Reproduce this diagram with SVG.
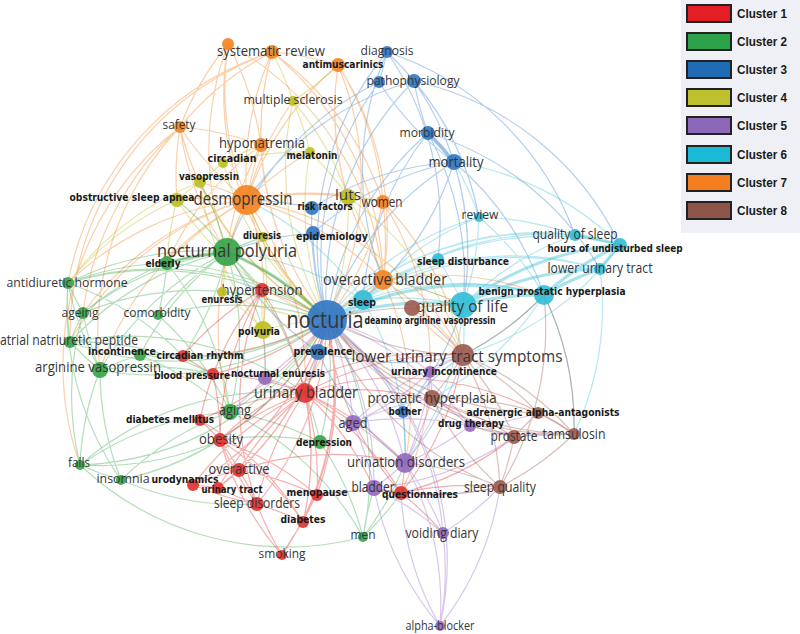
<svg xmlns="http://www.w3.org/2000/svg" width="800" height="634" viewBox="0 0 800 634">
<style>
.e path{fill:none;stroke-width:1.2;stroke-opacity:.38}
.e1 path{stroke:#e0302e}.e2 path{stroke:#3aa84a}.e3 path{stroke:#3a80cc}.e4 path{stroke:#bcbd22}
.e5 path{stroke:#9b6cc4}.e6 path{stroke:#3fc0d8}.e7 path{stroke:#f4821f}.e8 path{stroke:#9a5a4f}
.n1{fill:#e0302e}.n2{fill:#33a345}.n3{fill:#2f76c4}.n4{fill:#bcbd22}.n5{fill:#9467bd}.n6{fill:#30bdd6}.n7{fill:#f4821f}.n8{fill:#9a5a4f}
circle{fill-opacity:.9}
.t{font-family:"Open Sans","Noto Sans",sans-serif;fill:#363636;text-anchor:middle}
.b{font-family:"DejaVu Sans","Liberation Sans",sans-serif;font-weight:bold;fill:#1a1a1a;text-anchor:middle;font-size:11px}
.lg{font-family:"Liberation Sans","DejaVu Sans",sans-serif;font-weight:bold;fill:#1a1a1a;font-size:13px}
.bx{stroke:#222;stroke-width:2}
</style>
<rect width="800" height="634" fill="#ffffff"/>
<g id="connectors" class="e">
<g class="e3">
<path d="M327 320A300 300 0 0 1 387 52M327 320A300 300 0 0 1 414 81M327 320A300 300 0 0 1 379 82M327 320A300 300 0 0 1 428 133M327 320A300 300 0 0 1 454 162M327 320A300 300 0 0 1 312 208M327 320A300 300 0 0 1 313 233M327 320A300 300 0 0 1 318 352M327 320A300 300 0 0 1 403 412M428 133A300 300 0 0 1 414 81M387 52A300 300 0 0 1 414 81M387 52A300 300 0 0 1 379 82M379 82A300 300 0 0 0 454 162M414 81A300 300 0 0 1 454 162M454 162A300 300 0 0 1 363 300M454 162A300 300 0 0 0 313 233M454 162A300 300 0 0 0 312 208M428 133A300 300 0 0 0 363 300M387 52A300 300 0 0 0 383 280M414 81A300 300 0 0 0 247 200M379 82A300 300 0 0 0 227 252M312 208A300 300 0 0 0 247 200M313 233A300 300 0 0 0 227 252M318 352A300 300 0 0 0 463 355M318 352A300 300 0 0 0 405 463M403 412A300 300 0 0 1 463 355M403 412A300 300 0 0 0 463 305M403 412A300 300 0 0 1 405 463M454 162A300 300 0 0 1 463 305M428 133A300 300 0 0 1 463 305M387 52A300 300 0 0 1 438 259M414 81A300 300 0 0 1 479 217M414 81A300 300 0 0 1 463 305M318 352A300 300 0 0 1 227 252M318 352A300 300 0 0 1 305 393M454 162A300 300 0 0 1 544 295M387 52A300 300 0 0 1 575 235M414 81A300 300 0 0 1 620 245M428 133A300 300 0 0 1 600 269"/>
<path d="M454 162A300 300 0 0 0 428 133" style="stroke-width:3.5;stroke-opacity:.5"/>
</g>
<g class="e6">
<path d="M327 320A300 300 0 0 1 363 300M327 320A300 300 0 0 1 479 217M327 320A300 300 0 0 1 438 259M327 320A300 300 0 0 1 575 235M327 320A300 300 0 0 1 620 245M327 320A300 300 0 0 1 600 269M463 305A300 300 0 0 1 575 235M463 305A300 300 0 0 0 438 259M463 305A300 300 0 0 0 479 217M363 300A300 300 0 0 1 463 305M463 305A300 300 0 0 1 463 355M479 217A300 300 0 0 0 454 162M575 235A300 300 0 0 0 363 300M620 245A300 300 0 0 0 363 300M544 295A300 300 0 0 0 363 300M544 295A300 300 0 0 1 463 355M600 269A300 300 0 0 0 363 300M479 217A300 300 0 0 0 363 300M438 259A300 300 0 0 0 363 300M463 305A300 300 0 0 0 383 280M544 295A300 300 0 0 0 479 217M575 235A300 300 0 0 0 479 217M620 245A300 300 0 0 0 454 162M544 295A300 300 0 0 1 574 434M600 269A300 300 0 0 1 574 434M544 295A300 300 0 0 1 432 398M363 300A300 300 0 0 0 247 200M363 300A300 300 0 0 0 227 252M363 300A300 300 0 0 1 405 463M463 305A300 300 0 0 1 405 463M620 245A300 300 0 0 1 463 355"/>
<path d="M327 320A300 300 0 0 1 463 305M463 305A300 300 0 0 1 544 295M544 295A300 300 0 0 1 600 269M544 295A300 300 0 0 1 620 245M600 269A300 300 0 0 1 620 245M463 305A300 300 0 0 1 600 269M463 305A300 300 0 0 1 620 245M620 245A300 300 0 0 0 575 235M327 320A300 300 0 0 1 544 295" style="stroke-width:3.2;stroke-opacity:.45"/>
</g>
<g class="e7">
<path d="M327 320A300 300 0 0 1 272 52M327 320A300 300 0 0 1 228 44M327 320A300 300 0 0 0 338 65M327 320A300 300 0 0 1 180 127M327 320A300 300 0 0 1 261 145M327 320A300 300 0 0 1 247 200M327 320A300 300 0 0 0 383 202M327 320A300 300 0 0 1 383 280M247 200A300 300 0 0 1 272 52M247 200A300 300 0 0 1 228 44M247 200A300 300 0 0 1 338 65M247 200A300 300 0 0 1 180 127M247 200A300 300 0 0 1 261 145M247 200A300 300 0 0 0 227 252M247 200A300 300 0 0 1 383 280M247 200A300 300 0 0 1 383 202M247 200A300 300 0 0 1 348 197M247 200A300 300 0 0 0 100 370M247 200A300 300 0 0 0 167 263M247 200A300 300 0 0 0 68 283M247 200A300 300 0 0 1 293 101M247 200A300 300 0 0 1 310 152M247 200A300 300 0 0 0 177 200M247 200A300 300 0 0 0 200 182M247 200A300 300 0 0 0 83 313M247 200A300 300 0 0 0 70 342M247 200A300 300 0 0 1 463 355M247 200A300 300 0 0 1 305 393M247 200A300 300 0 0 0 230 412M247 200A300 300 0 0 1 263 330M272 52A300 300 0 0 0 180 127M272 52A300 300 0 0 0 261 145M272 52A300 300 0 0 1 338 65M272 52A300 300 0 0 1 383 280M272 52A300 300 0 0 1 383 202M228 44A300 300 0 0 0 180 127M228 44A300 300 0 0 1 261 145M228 44A300 300 0 0 1 383 280M228 44A300 300 0 0 0 227 252M338 65A300 300 0 0 1 383 280M338 65A300 300 0 0 1 383 202M338 65A300 300 0 0 0 348 197M338 65A300 300 0 0 0 463 355M180 127A300 300 0 0 1 261 145M180 127A300 300 0 0 0 227 252M180 127A300 300 0 0 0 177 200M180 127A300 300 0 0 0 100 370M180 127A300 300 0 0 0 80 465M261 145A300 300 0 0 0 227 252M261 145A300 300 0 0 0 167 263M383 280A300 300 0 0 1 463 305M383 280A300 300 0 0 1 463 355M383 280A300 300 0 0 1 405 463M383 280A300 300 0 0 0 305 393M383 280A300 300 0 0 0 383 202M383 280A300 300 0 0 1 544 295M383 202A300 300 0 0 1 463 355M383 202A300 300 0 0 1 401 493M272 52A300 300 0 0 0 68 283M272 52A300 300 0 0 0 70 342M180 127A300 300 0 0 0 83 313"/>
</g>
<g class="e2">
<path d="M327 320A300 300 0 0 0 227 252M327 320A300 300 0 0 0 167 263M327 320A300 300 0 0 0 68 283M327 320A300 300 0 0 0 83 313M327 320A300 300 0 0 0 158 315M327 320A300 300 0 0 1 70 342M327 320A300 300 0 0 1 140 355M327 320A300 300 0 0 1 100 370M327 320A300 300 0 0 1 230 412M327 320A300 300 0 0 1 320 442M327 320A300 300 0 0 1 121 480M327 320A300 300 0 0 1 80 465M327 320A300 300 0 0 1 363 537M227 252A300 300 0 0 0 167 263M227 252A300 300 0 0 0 68 283M227 252A300 300 0 0 0 83 313M227 252A300 300 0 0 0 70 342M227 252A300 300 0 0 0 100 370M227 252A300 300 0 0 0 140 355M227 252A300 300 0 0 0 158 315M227 252A300 300 0 0 1 230 412M227 252A300 300 0 0 1 262 290M227 252A300 300 0 0 1 263 330M227 252A300 300 0 0 1 263 237M227 252A300 300 0 0 0 177 200M227 252A300 300 0 0 0 200 182M227 252A300 300 0 0 1 305 393M227 252A300 300 0 0 1 183 356M167 263A300 300 0 0 0 68 283M167 263A300 300 0 0 0 83 313M68 283A300 300 0 0 0 83 313M68 283A300 300 0 0 0 70 342M68 283A300 300 0 0 0 100 370M83 313A300 300 0 0 0 70 342M83 313A300 300 0 0 0 100 370M70 342A300 300 0 0 0 100 370M100 370A300 300 0 0 1 140 355M100 370A300 300 0 0 0 80 465M100 370A300 300 0 0 0 121 480M83 313A300 300 0 0 0 80 465M68 283A300 300 0 0 0 121 480M230 412A300 300 0 0 1 320 442M230 412A300 300 0 0 1 363 537M230 412A300 300 0 0 0 80 465M230 412A300 300 0 0 0 121 480M320 442A300 300 0 0 1 363 537M320 442A300 300 0 0 0 305 393M320 442A300 300 0 0 0 220 440M121 480A300 300 0 0 1 80 465M121 480A300 300 0 0 0 220 440M121 480A300 300 0 0 0 257 504M80 465A300 300 0 0 0 220 440M363 537A300 300 0 0 1 374 488M363 537A300 300 0 0 0 405 463M363 537A300 300 0 0 0 401 493M158 315A300 300 0 0 1 230 412M140 355A300 300 0 0 1 230 412M167 263A300 300 0 0 1 230 412M167 263A300 300 0 0 1 158 315M100 370A300 300 0 0 1 213 374M140 355A300 300 0 0 1 183 356M70 342A300 300 0 0 1 213 374M68 283A300 300 0 0 1 183 356M68 283A300 300 0 0 1 262 290M70 342A300 300 0 0 1 305 393M80 465A300 300 0 0 1 305 393M80 465A300 300 0 0 0 363 537"/>
<path d="M327 320A300 300 0 0 0 227 252M227 252A300 300 0 0 0 167 263" style="stroke-width:3;stroke-opacity:.45"/>
</g>
<g class="e1">
<path d="M327 320A300 300 0 0 0 262 290M327 320A300 300 0 0 1 183 356M327 320A300 300 0 0 1 213 374M327 320A300 300 0 0 1 305 393M327 320A300 300 0 0 1 200 420M327 320A300 300 0 0 1 220 440M327 320A300 300 0 0 1 239 470M327 320A300 300 0 0 1 193 485M327 320A300 300 0 0 1 218 488M327 320A300 300 0 0 1 257 504M327 320A300 300 0 0 1 317 495M327 320A300 300 0 0 0 401 493M327 320A300 300 0 0 1 303 522M327 320A300 300 0 0 1 282 555M262 290A300 300 0 0 0 183 356M262 290A300 300 0 0 0 213 374M262 290A300 300 0 0 1 305 393M262 290A300 300 0 0 0 220 440M262 290A300 300 0 0 0 200 420M262 290A300 300 0 0 1 303 522M262 290A300 300 0 0 0 257 504M183 356A300 300 0 0 0 213 374M305 393A300 300 0 0 0 220 440M305 393A300 300 0 0 0 239 470M305 393A300 300 0 0 0 218 488M305 393A300 300 0 0 0 257 504M305 393A300 300 0 0 1 317 495M305 393A300 300 0 0 1 401 493M305 393A300 300 0 0 1 303 522M305 393A300 300 0 0 0 200 420M305 393A300 300 0 0 0 193 485M305 393A300 300 0 0 1 463 355M305 393A300 300 0 0 1 405 463M305 393A300 300 0 0 1 374 488M305 393A300 300 0 0 1 353 423M200 420A300 300 0 0 1 220 440M220 440A300 300 0 0 1 239 470M220 440A300 300 0 0 0 257 504M220 440A300 300 0 0 1 303 522M239 470A300 300 0 0 0 218 488M239 470A300 300 0 0 0 193 485M239 470A300 300 0 0 1 257 504M239 470A300 300 0 0 1 317 495M218 488A300 300 0 0 0 257 504M257 504A300 300 0 0 1 303 522M257 504A300 300 0 0 0 282 555M303 522A300 300 0 0 0 282 555M303 522A300 300 0 0 1 317 495M317 495A300 300 0 0 1 401 493M317 495A300 300 0 0 0 220 440M401 493A300 300 0 0 0 405 463M401 493A300 300 0 0 1 374 488M401 493A300 300 0 0 1 443 533M401 493A300 300 0 0 0 463 355M282 555A300 300 0 0 1 220 440M213 374A300 300 0 0 1 220 440M213 374A300 300 0 0 1 305 393M200 420A300 300 0 0 1 303 522M193 485A300 300 0 0 1 218 488M193 485A300 300 0 0 0 257 504M401 493A300 300 0 0 1 500 487M220 440A300 300 0 0 1 463 355M239 470A300 300 0 0 1 405 463M305 393A300 300 0 0 1 514 437M305 393A300 300 0 0 1 574 434M401 493A300 300 0 0 0 514 437"/>
</g>
<g class="e4">
<path d="M327 320A300 300 0 0 1 293 101M327 320A300 300 0 0 1 310 152M327 320A300 300 0 0 1 223 163M327 320A300 300 0 0 1 200 182M327 320A300 300 0 0 1 177 200M327 320A300 300 0 0 0 348 197M327 320A300 300 0 0 1 263 237M327 320A300 300 0 0 1 222 292M327 320A300 300 0 0 0 263 330M263 330A300 300 0 0 0 263 237M263 330A300 300 0 0 0 222 292M263 330A300 300 0 0 1 200 182M263 330A300 300 0 0 1 262 290M200 182A300 300 0 0 1 223 163M200 182A300 300 0 0 0 177 200M223 163A300 300 0 0 1 310 152M223 163A300 300 0 0 1 261 145M310 152A300 300 0 0 0 293 101M310 152A300 300 0 0 1 348 197M293 101A300 300 0 0 1 348 197M348 197A300 300 0 0 1 383 280M348 197A300 300 0 0 1 383 202M177 200A300 300 0 0 0 167 263M177 200A300 300 0 0 0 68 283M200 182A300 300 0 0 0 68 283M263 237A300 300 0 0 1 247 200M222 292A300 300 0 0 0 227 252M293 101A300 300 0 0 0 272 52M293 101A300 300 0 0 0 338 65M348 197A300 300 0 0 1 463 355M263 330A300 300 0 0 1 265 378"/>
</g>
<g class="e5">
<path d="M327 320A300 300 0 0 1 265 378M327 320A300 300 0 0 1 430 372M327 320A300 300 0 0 1 353 423M327 320A300 300 0 0 1 470 426M327 320A300 300 0 0 1 405 463M327 320A300 300 0 0 1 374 488M327 320A300 300 0 0 1 443 533M327 320A300 300 0 0 1 440 626M405 463A300 300 0 0 1 374 488M405 463A300 300 0 0 0 353 423M405 463A300 300 0 0 1 443 533M405 463A300 300 0 0 0 463 355M405 463A300 300 0 0 0 432 398M405 463A300 300 0 0 0 470 426M405 463A300 300 0 0 0 430 372M374 488A300 300 0 0 1 443 533M374 488A300 300 0 0 0 440 626M443 533A300 300 0 0 1 440 626M405 463A300 300 0 0 1 440 626M353 423A300 300 0 0 1 463 355M353 423A300 300 0 0 1 432 398M353 423A300 300 0 0 1 470 426M470 426A300 300 0 0 0 432 398M470 426A300 300 0 0 0 538 413M470 426A300 300 0 0 1 514 437M470 426A300 300 0 0 0 574 434M430 372A300 300 0 0 1 463 355M430 372A300 300 0 0 1 432 398M265 378A300 300 0 0 1 305 393M265 378A300 300 0 0 0 263 330M265 378A300 300 0 0 0 213 374M265 378A300 300 0 0 1 230 412M374 488A300 300 0 0 0 500 487M443 533A300 300 0 0 0 500 487M353 423A300 300 0 0 1 374 488M374 488A300 300 0 0 0 514 437M440 626A300 300 0 0 1 401 493M440 626A300 300 0 0 0 500 487M430 372A300 300 0 0 1 353 423"/>
</g>
<g class="e8">
<path d="M327 320A300 300 0 0 0 463 355M327 320A300 300 0 0 1 412 308M327 320A300 300 0 0 0 432 398M327 320A300 300 0 0 0 538 413M327 320A300 300 0 0 0 514 437M327 320A300 300 0 0 0 574 434M327 320A300 300 0 0 0 500 487M463 355A300 300 0 0 1 432 398M463 355A300 300 0 0 1 538 413M463 355A300 300 0 0 1 514 437M463 355A300 300 0 0 1 574 434M463 355A300 300 0 0 1 500 487M463 355A300 300 0 0 0 544 295M432 398A300 300 0 0 1 538 413M432 398A300 300 0 0 0 514 437M432 398A300 300 0 0 0 574 434M432 398A300 300 0 0 0 500 487M538 413A300 300 0 0 1 574 434M538 413A300 300 0 0 0 514 437M514 437A300 300 0 0 1 574 434M514 437A300 300 0 0 1 500 487M574 434A300 300 0 0 1 500 487M500 487A300 300 0 0 1 401 493M500 487A300 300 0 0 0 405 463M574 434A300 300 0 0 0 544 295M412 308A300 300 0 0 1 463 355M412 308A300 300 0 0 1 463 305M500 487A300 300 0 0 0 544 295"/>
</g>
</g>
<g id="nodes">
<g id="n-nocturia"><circle class="n3" cx="327" cy="320" r="20"/><text class="t" x="325" y="328" font-size="24" textLength="77" lengthAdjust="spacingAndGlyphs">nocturia</text></g>
<g id="n-desmopressin"><circle class="n7" cx="247" cy="200" r="15"/><text class="t" x="243" y="205" font-size="18" textLength="99" lengthAdjust="spacingAndGlyphs">desmopressin</text></g>
<g id="n-nocturnal-polyuria"><circle class="n2" cx="227" cy="252" r="14"/><text class="t" x="227" y="257" font-size="18" textLength="140" lengthAdjust="spacingAndGlyphs">nocturnal polyuria</text></g>
<g id="n-quality-of-life"><circle class="n6" cx="463" cy="305" r="13"/><text class="t" x="462" y="312" font-size="17" textLength="92" lengthAdjust="spacingAndGlyphs">quality of life</text></g>
<g id="n-luts-symptoms"><circle class="n8" cx="463" cy="355" r="11"/><text class="t" x="457" y="362" font-size="16" textLength="211" lengthAdjust="spacingAndGlyphs">lower urinary tract symptoms</text></g>
<g id="n-urinary-bladder"><circle class="n1" cx="305" cy="393" r="10"/><text class="t" x="306" y="398" font-size="16" textLength="104" lengthAdjust="spacingAndGlyphs">urinary bladder</text></g>
<g id="n-overactive-bladder"><circle class="n7" cx="383" cy="280" r="10"/><text class="t" x="385" y="285" font-size="16" textLength="124" lengthAdjust="spacingAndGlyphs">overactive bladder</text></g>
<g id="n-sleep"><circle class="n6" cx="363" cy="300" r="10"/><text class="b" x="362" y="306" textLength="28" lengthAdjust="spacingAndGlyphs">sleep</text></g>
<g id="n-bph"><circle class="n6" cx="544" cy="295" r="10"/><text class="b" x="552" y="295" textLength="147" lengthAdjust="spacingAndGlyphs">benign prostatic hyperplasia</text></g>
<g id="n-urination-disorders"><circle class="n5" cx="405" cy="463" r="10"/><text class="t" x="406" y="467" font-size="15" textLength="118" lengthAdjust="spacingAndGlyphs">urination disorders</text></g>
<g id="n-polyuria"><circle class="n4" cx="263" cy="330" r="9"/><text class="b" x="259" y="335" textLength="42" lengthAdjust="spacingAndGlyphs">polyuria</text></g>
<g id="n-deamino"><circle class="n8" cx="412" cy="308" r="8"/><text class="b" x="430" y="324" font-size="9" textLength="131" lengthAdjust="spacingAndGlyphs">deamino arginine vasopressin</text></g>
<g id="n-prostatic-hyperplasia"><circle class="n8" cx="432" cy="398" r="8"/><text class="t" x="432" y="403" font-size="15" textLength="129" lengthAdjust="spacingAndGlyphs">prostatic hyperplasia</text></g>
<g id="n-mortality"><circle class="n3" cx="454" cy="162" r="8"/><text class="t" x="456" y="167" font-size="15" textLength="55" lengthAdjust="spacingAndGlyphs">mortality</text></g>
<g id="n-aged"><circle class="n5" cx="353" cy="423" r="8"/><text class="t" x="353" y="428" font-size="15" textLength="29" lengthAdjust="spacingAndGlyphs">aged</text></g>
<g id="n-bladder"><circle class="n5" cx="374" cy="488" r="8"/><text class="t" x="373" y="492" font-size="15" textLength="43" lengthAdjust="spacingAndGlyphs">bladder</text></g>
<g id="n-arginine-vasopressin"><circle class="n2" cx="100" cy="370" r="8"/><text class="t" x="98" y="372" font-size="15" textLength="126" lengthAdjust="spacingAndGlyphs">arginine vasopressin</text></g>
<g id="n-aging"><circle class="n2" cx="230" cy="412" r="8"/><text class="t" x="235" y="415" font-size="15" textLength="32" lengthAdjust="spacingAndGlyphs">aging</text></g>
<g id="n-luts"><circle class="n4" cx="348" cy="197" r="8"/><text class="t" x="348" y="200" font-size="15" textLength="26" lengthAdjust="spacingAndGlyphs">luts</text></g>
<g id="n-hypertension"><circle class="n1" cx="262" cy="290" r="7"/><text class="t" x="262" y="295" font-size="15" textLength="81" lengthAdjust="spacingAndGlyphs">hypertension</text></g>
<g id="n-hyponatremia"><circle class="n7" cx="261" cy="145" r="7"/><text class="t" x="262" y="148" font-size="15" textLength="86" lengthAdjust="spacingAndGlyphs">hyponatremia</text></g>
<g id="n-systematic-review"><circle class="n7" cx="272" cy="52" r="7"/><text class="t" x="271" y="56" font-size="14" textLength="108" lengthAdjust="spacingAndGlyphs">systematic review</text></g>
<g id="n-orange-unlabelled"><circle class="n7" cx="228" cy="44" r="6"/></g>
<g id="n-antimuscarinics"><circle class="n7" cx="338" cy="65" r="7"/><text class="b" x="343" y="68" textLength="81" lengthAdjust="spacingAndGlyphs">antimuscarinics</text></g>
<g id="n-safety"><circle class="n7" cx="180" cy="127" r="6"/><text class="t" x="179" y="129" font-size="13" textLength="33" lengthAdjust="spacingAndGlyphs">safety</text></g>
<g id="n-women"><circle class="n7" cx="383" cy="202" r="7"/><text class="t" x="382" y="207" font-size="14" textLength="41" lengthAdjust="spacingAndGlyphs">women</text></g>
<g id="n-multiple-sclerosis"><circle class="n4" cx="293" cy="101" r="5"/><text class="t" x="293" y="104" font-size="13" textLength="99" lengthAdjust="spacingAndGlyphs">multiple sclerosis</text></g>
<g id="n-melatonin"><circle class="n4" cx="310" cy="152" r="5"/><text class="b" x="312" y="159" textLength="51" lengthAdjust="spacingAndGlyphs">melatonin</text></g>
<g id="n-circadian"><circle class="n4" cx="223" cy="163" r="5"/><text class="b" x="232" y="162" textLength="49" lengthAdjust="spacingAndGlyphs">circadian</text></g>
<g id="n-vasopressin"><circle class="n4" cx="200" cy="182" r="6"/><text class="b" x="209" y="180" textLength="60" lengthAdjust="spacingAndGlyphs">vasopressin</text></g>
<g id="n-osa"><circle class="n4" cx="177" cy="200" r="7"/><text class="b" x="132" y="201" textLength="125" lengthAdjust="spacingAndGlyphs">obstructive sleep apnea</text></g>
<g id="n-diuresis"><circle class="n4" cx="263" cy="237" r="5"/><text class="b" x="262" y="239" textLength="38" lengthAdjust="spacingAndGlyphs">diuresis</text></g>
<g id="n-enuresis"><circle class="n4" cx="222" cy="292" r="5"/><text class="b" x="222" y="303" textLength="41" lengthAdjust="spacingAndGlyphs">enuresis</text></g>
<g id="n-diagnosis"><circle class="n3" cx="387" cy="52" r="6"/><text class="t" x="387" y="55" font-size="13" textLength="53" lengthAdjust="spacingAndGlyphs">diagnosis</text></g>
<g id="n-blue-unlabelled"><circle class="n3" cx="379" cy="82" r="6"/></g>
<g id="n-pathophysiology"><circle class="n3" cx="414" cy="81" r="7"/><text class="t" x="413" y="85" font-size="13" textLength="93" lengthAdjust="spacingAndGlyphs">pathophysiology</text></g>
<g id="n-morbidity"><circle class="n3" cx="428" cy="133" r="7"/><text class="t" x="427" y="137" font-size="13" textLength="55" lengthAdjust="spacingAndGlyphs">morbidity</text></g>
<g id="n-risk-factors"><circle class="n3" cx="312" cy="208" r="7"/><text class="b" x="325" y="210" textLength="55" lengthAdjust="spacingAndGlyphs">risk factors</text></g>
<g id="n-epidemiology"><circle class="n3" cx="313" cy="233" r="7"/><text class="b" x="332" y="240" textLength="72" lengthAdjust="spacingAndGlyphs">epidemiology</text></g>
<g id="n-prevalence"><circle class="n3" cx="318" cy="352" r="8"/><text class="b" x="323" y="355" textLength="59" lengthAdjust="spacingAndGlyphs">prevalence</text></g>
<g id="n-bother"><circle class="n3" cx="403" cy="412" r="6"/><text class="b" x="405" y="415" textLength="33" lengthAdjust="spacingAndGlyphs">bother</text></g>
<g id="n-review"><circle class="n6" cx="479" cy="217" r="5"/><text class="t" x="480" y="219" font-size="13" textLength="37" lengthAdjust="spacingAndGlyphs">review</text></g>
<g id="n-sleep-disturbance"><circle class="n6" cx="438" cy="259" r="6"/><text class="b" x="463" y="265" textLength="92" lengthAdjust="spacingAndGlyphs">sleep disturbance</text></g>
<g id="n-quality-of-sleep"><circle class="n6" cx="575" cy="235" r="6"/><text class="t" x="575" y="239" font-size="14" textLength="85" lengthAdjust="spacingAndGlyphs">quality of sleep</text></g>
<g id="n-hours"><circle class="n6" cx="620" cy="245" r="7"/><text class="b" x="615" y="252" textLength="135" lengthAdjust="spacingAndGlyphs">hours of undisturbed sleep</text></g>
<g id="n-lower-urinary-tract"><circle class="n6" cx="600" cy="269" r="6"/><text class="t" x="600" y="273" font-size="14" textLength="105" lengthAdjust="spacingAndGlyphs">lower urinary tract</text></g>
<g id="n-elderly"><circle class="n2" cx="167" cy="263" r="7"/><text class="b" x="163" y="267" textLength="35" lengthAdjust="spacingAndGlyphs">elderly</text></g>
<g id="n-adh"><circle class="n2" cx="68" cy="283" r="6"/><text class="t" x="67" y="287" font-size="13" textLength="121" lengthAdjust="spacingAndGlyphs">antidiuretic hormone</text></g>
<g id="n-ageing"><circle class="n2" cx="83" cy="313" r="6"/><text class="t" x="80" y="317" font-size="13" textLength="37" lengthAdjust="spacingAndGlyphs">ageing</text></g>
<g id="n-comorbidity"><circle class="n2" cx="158" cy="315" r="5"/><text class="t" x="157" y="317" font-size="13" textLength="67" lengthAdjust="spacingAndGlyphs">comorbidity</text></g>
<g id="n-anp"><circle class="n2" cx="70" cy="342" r="6"/><text class="t" x="69" y="345" font-size="14" textLength="138" lengthAdjust="spacingAndGlyphs">atrial natriuretic peptide</text></g>
<g id="n-incontinence"><circle class="n2" cx="140" cy="355" r="6"/><text class="b" x="122" y="355" textLength="68" lengthAdjust="spacingAndGlyphs">incontinence</text></g>
<g id="n-depression"><circle class="n2" cx="320" cy="442" r="7"/><text class="b" x="324" y="446" textLength="56" lengthAdjust="spacingAndGlyphs">depression</text></g>
<g id="n-insomnia"><circle class="n2" cx="121" cy="480" r="5"/><text class="t" x="123" y="483" font-size="13" textLength="53" lengthAdjust="spacingAndGlyphs">insomnia</text></g>
<g id="n-falls"><circle class="n2" cx="80" cy="465" r="5"/><text class="t" x="79" y="467" font-size="13" textLength="22" lengthAdjust="spacingAndGlyphs">falls</text></g>
<g id="n-men"><circle class="n2" cx="363" cy="537" r="5"/><text class="t" x="363" y="539" font-size="13" textLength="25" lengthAdjust="spacingAndGlyphs">men</text></g>
<g id="n-circadian-rhythm"><circle class="n1" cx="183" cy="356" r="6"/><text class="b" x="200" y="359" textLength="87" lengthAdjust="spacingAndGlyphs">circadian rhythm</text></g>
<g id="n-blood-pressure"><circle class="n1" cx="213" cy="374" r="6"/><text class="b" x="192" y="379" textLength="76" lengthAdjust="spacingAndGlyphs">blood pressure</text></g>
<g id="n-diabetes-mellitus"><circle class="n1" cx="200" cy="420" r="6"/><text class="b" x="170" y="423" textLength="88" lengthAdjust="spacingAndGlyphs">diabetes mellitus</text></g>
<g id="n-obesity"><circle class="n1" cx="220" cy="440" r="7"/><text class="t" x="221" y="444" font-size="14" textLength="44" lengthAdjust="spacingAndGlyphs">obesity</text></g>
<g id="n-overactive"><circle class="n1" cx="239" cy="470" r="7"/><text class="t" x="239" y="474" font-size="14" textLength="61" lengthAdjust="spacingAndGlyphs">overactive</text></g>
<g id="n-urodynamics"><circle class="n1" cx="193" cy="485" r="6"/><text class="b" x="185" y="483" textLength="67" lengthAdjust="spacingAndGlyphs">urodynamics</text></g>
<g id="n-urinary-tract"><circle class="n1" cx="218" cy="488" r="6"/><text class="b" x="232" y="493" textLength="61" lengthAdjust="spacingAndGlyphs">urinary tract</text></g>
<g id="n-sleep-disorders"><circle class="n1" cx="257" cy="504" r="7"/><text class="t" x="257" y="508" font-size="14" textLength="86" lengthAdjust="spacingAndGlyphs">sleep disorders</text></g>
<g id="n-menopause"><circle class="n1" cx="317" cy="495" r="6"/><text class="b" x="317" y="496" textLength="61" lengthAdjust="spacingAndGlyphs">menopause</text></g>
<g id="n-questionnaires"><circle class="n1" cx="401" cy="493" r="7"/><text class="b" x="420" y="498" textLength="76" lengthAdjust="spacingAndGlyphs">questionnaires</text></g>
<g id="n-diabetes"><circle class="n1" cx="303" cy="522" r="6"/><text class="b" x="303" y="523" textLength="45" lengthAdjust="spacingAndGlyphs">diabetes</text></g>
<g id="n-smoking"><circle class="n1" cx="282" cy="555" r="5"/><text class="t" x="282" y="558" font-size="13" textLength="47" lengthAdjust="spacingAndGlyphs">smoking</text></g>
<g id="n-nocturnal-enuresis"><circle class="n5" cx="265" cy="378" r="7"/><text class="b" x="278" y="377" textLength="94" lengthAdjust="spacingAndGlyphs">nocturnal enuresis</text></g>
<g id="n-urinary-incontinence"><circle class="n5" cx="430" cy="372" r="6"/><text class="b" x="444" y="375" textLength="106" lengthAdjust="spacingAndGlyphs">urinary incontinence</text></g>
<g id="n-drug-therapy"><circle class="n5" cx="470" cy="426" r="6"/><text class="b" x="471" y="427" textLength="66" lengthAdjust="spacingAndGlyphs">drug therapy</text></g>
<g id="n-voiding-diary"><circle class="n5" cx="443" cy="533" r="6"/><text class="t" x="442" y="538" font-size="14" textLength="73" lengthAdjust="spacingAndGlyphs">voiding diary</text></g>
<g id="n-alpha-blocker"><circle class="n5" cx="440" cy="626" r="5"/><text class="t" x="440" y="630" font-size="13" textLength="69" lengthAdjust="spacingAndGlyphs">alpha-blocker</text></g>
<g id="n-adrenergic"><circle class="n8" cx="538" cy="413" r="6"/><text class="b" x="543" y="416" textLength="153" lengthAdjust="spacingAndGlyphs">adrenergic alpha-antagonists</text></g>
<g id="n-prostate"><circle class="n8" cx="514" cy="437" r="7"/><text class="t" x="514" y="441" font-size="14" textLength="47" lengthAdjust="spacingAndGlyphs">prostate</text></g>
<g id="n-tamsulosin"><circle class="n8" cx="574" cy="434" r="6"/><text class="t" x="574" y="439" font-size="14" textLength="63" lengthAdjust="spacingAndGlyphs">tamsulosin</text></g>
<g id="n-sleep-quality"><circle class="n8" cx="500" cy="487" r="7"/><text class="t" x="500" y="492" font-size="14" textLength="72" lengthAdjust="spacingAndGlyphs">sleep quality</text></g>
</g>
<g id="legend">
<rect x="681" y="0" width="119" height="233" fill="#eef0f5"/>
<rect class="bx" x="687" y="5" width="44" height="17" fill="#e31e24"/><text class="lg" x="737" y="18" textLength="50" lengthAdjust="spacingAndGlyphs">Cluster 1</text>
<rect class="bx" x="687" y="33" width="44" height="17" fill="#2ca24a"/><text class="lg" x="737" y="46" textLength="50" lengthAdjust="spacingAndGlyphs">Cluster 2</text>
<rect class="bx" x="687" y="61" width="44" height="17" fill="#1f6cb5"/><text class="lg" x="737" y="74" textLength="50" lengthAdjust="spacingAndGlyphs">Cluster 3</text>
<rect class="bx" x="687" y="89" width="44" height="17" fill="#bfc02d"/><text class="lg" x="737" y="102" textLength="50" lengthAdjust="spacingAndGlyphs">Cluster 4</text>
<rect class="bx" x="687" y="117" width="44" height="17" fill="#8e68b8"/><text class="lg" x="737" y="130" textLength="50" lengthAdjust="spacingAndGlyphs">Cluster 5</text>
<rect class="bx" x="687" y="146" width="44" height="17" fill="#1ab9d6"/><text class="lg" x="737" y="159" textLength="50" lengthAdjust="spacingAndGlyphs">Cluster 6</text>
<rect class="bx" x="687" y="174" width="44" height="17" fill="#f57f20"/><text class="lg" x="737" y="187" textLength="50" lengthAdjust="spacingAndGlyphs">Cluster 7</text>
<rect class="bx" x="687" y="202" width="44" height="17" fill="#8c5548"/><text class="lg" x="737" y="215" textLength="50" lengthAdjust="spacingAndGlyphs">Cluster 8</text>
</g>
</svg>
